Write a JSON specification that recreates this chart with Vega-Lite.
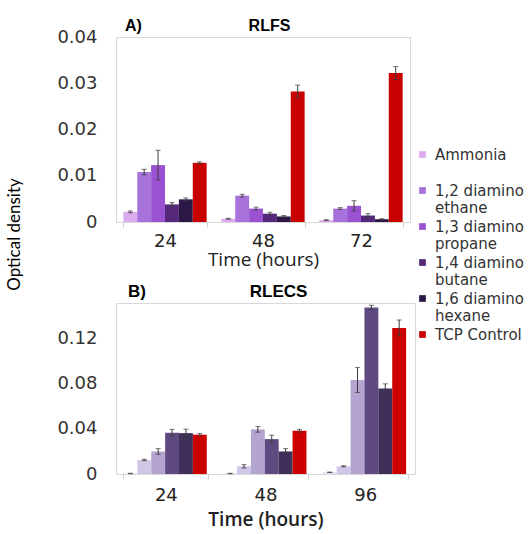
{
  "$schema": "https://vega.github.io/schema/vega-lite/v6.json",
  "background": "white",
  "padding": {"left": 6, "top": 17, "right": 0, "bottom": 0},
  "bounds": "flush",
  "datasets": {
    "a": [
      {"time": "24", "substance": "Ammonia", "od": 0.0022, "err": 0.0002},
      {"time": "24", "substance": "1,2 diamino ethane", "od": 0.0108, "err": 0.0006},
      {"time": "24", "substance": "1,3 diamino propane", "od": 0.0123, "err": 0.0032},
      {"time": "24", "substance": "1,4 diamino butane", "od": 0.0038, "err": 0.0004},
      {"time": "24", "substance": "1,6 diamino hexane", "od": 0.0049, "err": 0.0003},
      {"time": "24", "substance": "TCP Control", "od": 0.0128, "err": 0.0002},
      {"time": "48", "substance": "Ammonia", "od": 0.0007, "err": 0.0001},
      {"time": "48", "substance": "1,2 diamino ethane", "od": 0.0057, "err": 0.0003},
      {"time": "48", "substance": "1,3 diamino propane", "od": 0.0029, "err": 0.0003},
      {"time": "48", "substance": "1,4 diamino butane", "od": 0.0018, "err": 0.0003},
      {"time": "48", "substance": "1,6 diamino hexane", "od": 0.0012, "err": 0.0002},
      {"time": "48", "substance": "TCP Control", "od": 0.0282, "err": 0.0014},
      {"time": "72", "substance": "Ammonia", "od": 0.0004, "err": 0.0001},
      {"time": "72", "substance": "1,2 diamino ethane", "od": 0.0029, "err": 0.0002},
      {"time": "72", "substance": "1,3 diamino propane", "od": 0.0035, "err": 0.0011},
      {"time": "72", "substance": "1,4 diamino butane", "od": 0.0014, "err": 0.0004},
      {"time": "72", "substance": "1,6 diamino hexane", "od": 0.0006, "err": 0.0001},
      {"time": "72", "substance": "TCP Control", "od": 0.0322, "err": 0.0014}
    ],
    "b": [
      {"time": "24", "substance": "Ammonia", "od": 0.0004, "err": 0.0002},
      {"time": "24", "substance": "1,2 diamino ethane", "od": 0.0124, "err": 0.0006},
      {"time": "24", "substance": "1,3 diamino propane", "od": 0.0199, "err": 0.0025},
      {"time": "24", "substance": "1,4 diamino butane", "od": 0.0364, "err": 0.003},
      {"time": "24", "substance": "1,6 diamino hexane", "od": 0.0361, "err": 0.0035},
      {"time": "24", "substance": "TCP Control", "od": 0.0347, "err": 0.001},
      {"time": "48", "substance": "Ammonia", "od": 0.0004, "err": 0.0002},
      {"time": "48", "substance": "1,2 diamino ethane", "od": 0.0068, "err": 0.0015},
      {"time": "48", "substance": "1,3 diamino propane", "od": 0.0394, "err": 0.0025},
      {"time": "48", "substance": "1,4 diamino butane", "od": 0.0308, "err": 0.0035},
      {"time": "48", "substance": "1,6 diamino hexane", "od": 0.0199, "err": 0.0025},
      {"time": "48", "substance": "TCP Control", "od": 0.0382, "err": 0.0012},
      {"time": "96", "substance": "Ammonia", "od": 0.0015, "err": 0.0002},
      {"time": "96", "substance": "1,2 diamino ethane", "od": 0.0068, "err": 0.0005},
      {"time": "96", "substance": "1,3 diamino propane", "od": 0.083, "err": 0.011},
      {"time": "96", "substance": "1,4 diamino butane", "od": 0.147, "err": 0.002},
      {"time": "96", "substance": "1,6 diamino hexane", "od": 0.0756, "err": 0.004},
      {"time": "96", "substance": "TCP Control", "od": 0.129, "err": 0.007}
    ]
  },
  "title": {"text": "Optical density", "orient": "left", "anchor": "middle", "font": "Lato", "fontSize": 17, "fontWeight": "normal", "color": "#000000", "offset": 32, "dx": 39},
  "spacing": 81,
  "resolve": {"scale": {"color": "independent"}},
  "vconcat": [
    {
      "width": 294,
      "height": 185,
      "data": {"name": "a"},
      "title": {"text": "A)\u00a0\u00a0\u00a0\u00a0\u00a0\u00a0\u00a0\u00a0\u00a0\u00a0\u00a0\u00a0\u00a0\u00a0\u00a0\u00a0\u00a0\u00a0\u00a0\u00a0\u00a0\u00a0\u00a0\u00a0RLFS", "fontSize": 16, "fontWeight": "bold", "anchor": "start", "frame": "group", "dx": 9, "offset": -6, "font": "Liberation Sans", "color": "#000000"},
      "encoding": {
        "x": {"field": "time", "type": "nominal", "sort": null,
          "scale": {"paddingInner": 0.15, "paddingOuter": 0.075},
          "axis": {"title": "Time (hours)", "labelAngle": 0, "labelFont": "DejaVu Sans", "labelFontSize": 18, "labelColor": "#222222", "labelPadding": 5,
            "titleFont": "Open Sans", "titleFontSize": 19, "titleFontWeight": "normal", "titleColor": "#222222", "titlePadding": 0,
            "tickBand": "extent", "ticks": true, "tickSize": 5, "tickColor": "#d0d0d0", "domain": false}},
        "xOffset": {"field": "substance", "type": "nominal", "sort": ["Ammonia", "1,2 diamino ethane", "1,3 diamino propane", "1,4 diamino butane", "1,6 diamino hexane", "TCP Control"]},
        "y": {"field": "od", "type": "quantitative",
          "scale": {"domain": [0, 0.04], "nice": false},
          "axis": {"values": [0, 0.01, 0.02, 0.03, 0.04], "format": "~r", "grid": false, "ticks": false, "domain": false,
            "labelFont": "DejaVu Sans", "labelFontSize": 18, "labelColor": "#333333", "labelPadding": 19, "title": null}}
      },
      "layer": [
        {
          "mark": {"type": "bar"},
          "encoding": {
            "color": {"field": "substance", "type": "nominal",
              "sort": ["Ammonia", "1,2 diamino ethane", "1,3 diamino propane", "1,4 diamino butane", "1,6 diamino hexane", "TCP Control"],
              "scale": {"range": ["#dcaaee", "#a772da", "#9a52d2", "#55287b", "#2b1846", "#c80000"]},
              "legend": {"title": null, "orient": "none", "legendX": 299, "legendY": 110, "padding": 0,
                "symbolType": "square", "symbolSize": 45, "symbolStrokeWidth": 0,
                "labelFont": "DejaVu Sans", "labelFontSize": 15, "labelColor": "#333333", "labelOffset": 5, "rowPadding": 3, "labelLimit": 200,
                "labelExpr": "datum.label == 'Ammonia' ? ['Ammonia', ''] : datum.label == 'TCP Control' ? ['TCP Control', ''] : [slice(datum.label, 0, 11), slice(datum.label, 12)]"}}
          }
        },
        {
          "mark": {"type": "errorbar", "ticks": {"size": 5}, "color": "#3a3a3a", "thickness": 1},
          "encoding": {"yError": {"field": "err"}}
        }
      ]
    },
    {
      "width": 299,
      "height": 171,
      "data": {"name": "b"},
      "title": {"text": "B)\u00a0\u00a0\u00a0\u00a0\u00a0\u00a0\u00a0\u00a0\u00a0\u00a0\u00a0\u00a0\u00a0\u00a0\u00a0\u00a0\u00a0\u00a0\u00a0\u00a0\u00a0\u00a0RLECS", "fontSize": 17, "fontWeight": "bold", "anchor": "start", "frame": "group", "dx": 12, "offset": 2, "font": "Liberation Sans", "color": "#000000"},
      "encoding": {
        "x": {"field": "time", "type": "nominal", "sort": null,
          "scale": {"paddingInner": 0.15, "paddingOuter": 0.075},
          "axis": {"title": "Time (hours)", "labelAngle": 0, "labelFont": "DejaVu Sans", "labelFontSize": 18, "labelColor": "#222222", "labelPadding": 7,
            "titleFont": "Open Sans", "titleFontSize": 19, "titleFontWeight": 600, "titleColor": "#222222", "titlePadding": 6,
            "tickBand": "extent", "ticks": true, "tickSize": 5, "tickColor": "#d0d0d0", "domain": false}},
        "xOffset": {"field": "substance", "type": "nominal", "sort": ["Ammonia", "1,2 diamino ethane", "1,3 diamino propane", "1,4 diamino butane", "1,6 diamino hexane", "TCP Control"]},
        "y": {"field": "od", "type": "quantitative",
          "scale": {"domain": [0, 0.151], "nice": false},
          "axis": {"values": [0, 0.04, 0.08, 0.12], "format": "~r", "grid": false, "ticks": false, "domain": false,
            "labelFont": "DejaVu Sans", "labelFontSize": 18, "labelColor": "#333333", "labelPadding": 19, "title": null}}
      },
      "layer": [
        {
          "mark": {"type": "bar"},
          "encoding": {
            "color": {"field": "substance", "type": "nominal",
              "sort": ["Ammonia", "1,2 diamino ethane", "1,3 diamino propane", "1,4 diamino butane", "1,6 diamino hexane", "TCP Control"],
              "scale": {"range": ["#e6ddf0", "#d2c6e6", "#b4a4d0", "#5e4a80", "#3e3058", "#cc0000"]},
              "legend": null}
          }
        },
        {
          "mark": {"type": "errorbar", "ticks": {"size": 5}, "color": "#3a3a3a", "thickness": 1},
          "encoding": {"yError": {"field": "err"}}
        }
      ]
    }
  ],
  "config": {
    "font": "Liberation Sans",
    "view": {"stroke": "#d9d9d9", "strokeWidth": 1}
  }
}
